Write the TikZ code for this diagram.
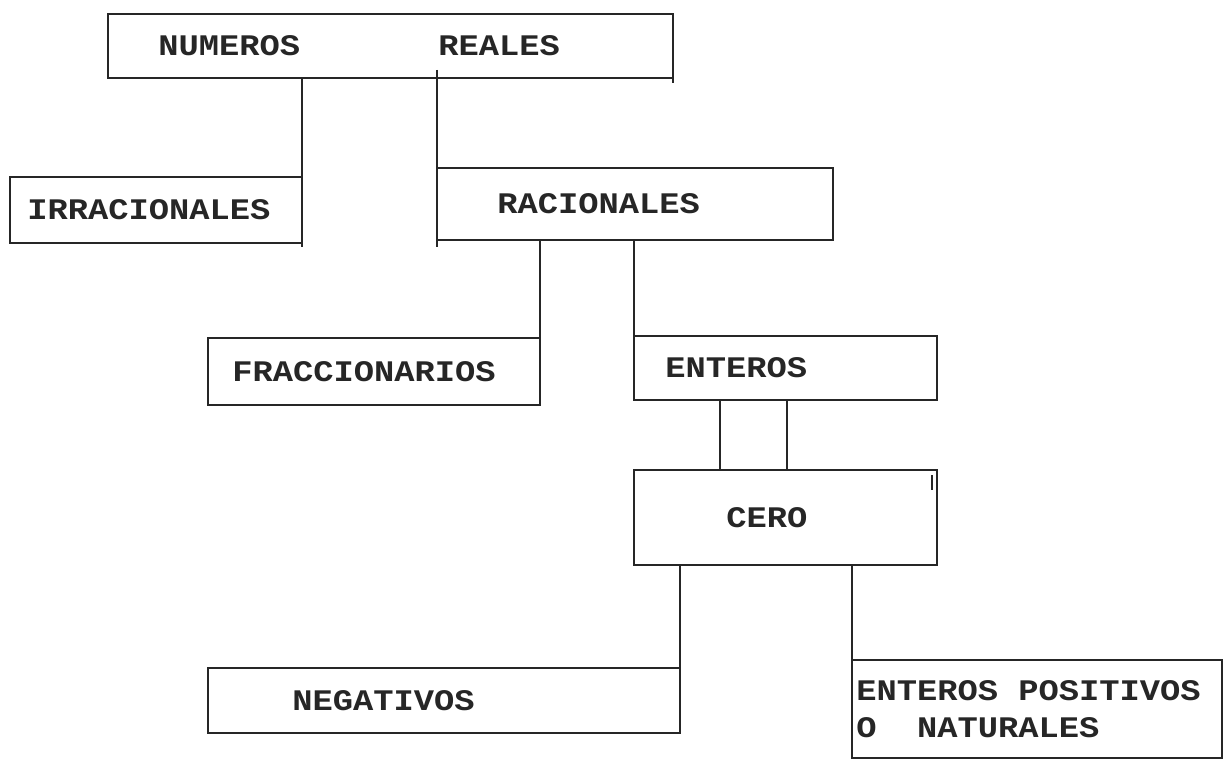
\documentclass[tikz,border=0pt]{standalone}
\usepackage{fontspec}
\newfontfamily\maquina[FakeStretch=1.13]{Liberation Mono}
\usetikzlibrary{positioning}
\usetikzlibrary{calc}

\begin{document}
\begin{tikzpicture}[x=0.02cm, y=-0.02cm,
        caja/.style={draw=black!85, line width=1.4pt, inner sep=0pt, outer sep=0pt, anchor=north west},
        rotulo/.style={inner sep=0pt, text=black!85, font=\maquina\bfseries\fontsize{17}{21}\selectfont},
        linea/.style={draw=black!85, line width=1.4pt}]
        \useasboundingbox[fill=white] (0,0) rectangle (1225,761);
        % cajas
        \node[caja, minimum width=11.30cm, minimum height=1.28cm] (reales) at (108,14) {};
        \node[caja, minimum width=5.84cm, minimum height=1.32cm] (irr) at (10,177) {};
        \node[caja, minimum width=7.92cm, minimum height=1.44cm] (rac) at (437,168) {};
        \node[caja, minimum width=6.64cm, minimum height=1.34cm] (frac) at (208,338) {};
        \node[caja, minimum width=6.06cm, minimum height=1.28cm] (ent) at (634,336) {};
        \node[caja, minimum width=6.06cm, minimum height=1.90cm] (cero) at (634,470) {};
        \node[caja, minimum width=9.44cm, minimum height=1.30cm] (neg) at (208,668) {};
        \node[caja, minimum width=7.40cm, minimum height=1.96cm] (pos) at (852,660) {};
        % textos
        \node[rotulo, right=1.0cm of reales.west] (tnum) {NUMEROS};
        \node[rotulo, right=6.6cm of reales.west] (treal) {REALES};
        \node[rotulo, right=0.34cm of irr.west] (tirr) {IRRACIONALES};
        \node[rotulo, right=1.2cm of rac.west] (trac) {RACIONALES};
        \node[rotulo, right=0.48cm of frac.west] (tfrac) {FRACCIONARIOS};
        \node[rotulo, right=0.62cm of ent.west] (tent) {ENTEROS};
        \node[rotulo, right=1.84cm of cero.west] (tcero) {CERO};
        \node[rotulo, right=1.68cm of neg.west] (tneg) {NEGATIVOS};
        \node[rotulo, right=0.08cm of pos.west, align=left] (tpos) {ENTEROS POSITIVOS\\O~~NATURALES};
        % lineas
        \draw[linea] (reales.south -| irr.east) -- ($(irr.south east)+(0,4)$);
        \draw[linea] ($(reales.south -| rac.west)+(0,-8)$) -- ($(rac.south west)+(0,7)$);
        \draw[linea] ($(reales.south east)+(0,-4)$) -- ($(reales.south east)+(0,5)$);
        \draw[linea] (rac.south -| frac.east) -- (frac.south east);
        \draw[linea] (rac.south -| ent.west) -- (ent.south west);
        \draw[linea] ([xshift=1.72cm]ent.south west) -- ([xshift=1.72cm]cero.north west);
        \draw[linea] ([xshift=3.06cm]ent.south west) -- ([xshift=3.06cm]cero.north west);
        \draw[linea] ([xshift=-0.1cm, yshift=-0.1cm]cero.north east) -- ++(0,15);
        \draw[linea] (cero.south -| neg.east) -- (neg.south east);
        \draw[linea] (cero.south -| pos.west) -- (pos.south west);
    \end{tikzpicture}
\end{document}
